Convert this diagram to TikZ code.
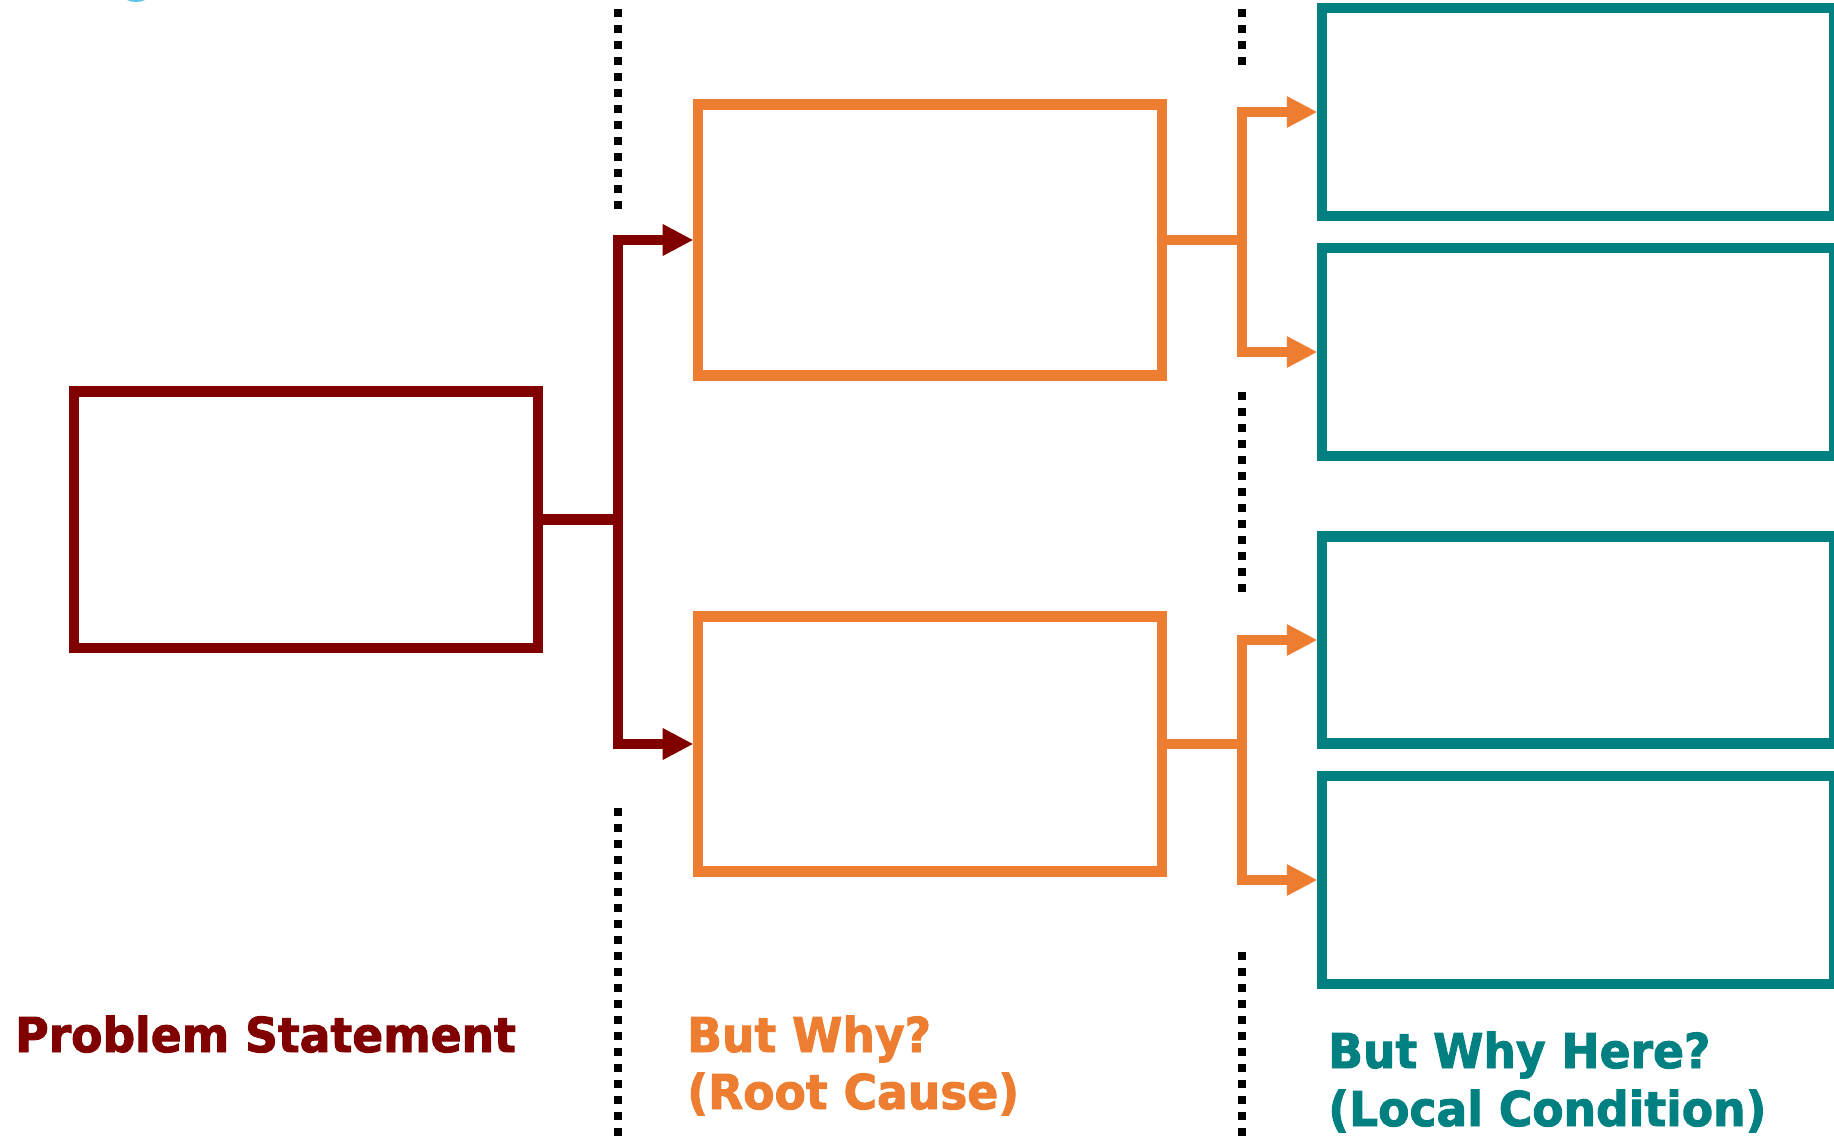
\documentclass[tikz,border=0pt]{standalone}
\usepackage{fontspec}
\setmainfont{DejaVu Sans}
\newfontfamily\headfont{DejaVu Sans Bold}[FakeBold=2, FakeStretch=0.95]
\usetikzlibrary{arrows.meta}
\definecolor{psred}{HTML}{800000}
\definecolor{rcorange}{HTML}{ED7D31}
\definecolor{lcteal}{HTML}{008080}
\definecolor{skyblue}{HTML}{5BC0EB}
\begin{document}
\begin{tikzpicture}[x=0.75pt,y=-0.75pt,
  box/.style={draw, line width=7.9pt, inner sep=0pt, rectangle},
  link/.style={line width=7.9pt},
  tip/.style={-{Triangle[length=22.5pt,width=24pt,line width=0pt]}},
  sepline/.style={line width=6pt, dash pattern=on 6pt off 6pt},
  heading/.style={font=\headfont\fontsize{36}{43}\selectfont, inner sep=0pt, anchor=base west}]
\useasboundingbox (0,0) rectangle (1834,1137);
\clip (0,0) rectangle (1834,1137);

% stray sliver of a shape cut by the top edge
\fill[skyblue] (136,-4) ellipse [x radius=12, y radius=6];

% column separators
\draw[sepline] (618,9) -- (618,209);
\draw[sepline] (618,808) -- (618,1137);
\draw[sepline] (1242,9) -- (1242,65);
\draw[sepline] (1242,392) -- (1242,592);
\draw[sepline] (1242,952) -- (1242,1137);

% boxes
\node[box, draw=psred, minimum width=348pt, minimum height=192.4pt] (ps) at (306,519.75) {};
\node[box, draw=rcorange, minimum width=348pt, minimum height=203.25pt] (rc1) at (930,240) {};
\node[box, draw=rcorange, minimum width=348pt, minimum height=191.25pt] (rc2) at (930,744) {};
\node[box, draw=lcteal, minimum width=384pt, minimum height=156pt] (lc1) at (1578,112) {};
\node[box, draw=lcteal, minimum width=384pt, minimum height=156pt] (lc2) at (1578,352) {};
\node[box, draw=lcteal, minimum width=384pt, minimum height=155.25pt] (lc3) at (1578,640) {};
\node[box, draw=lcteal, minimum width=384pt, minimum height=156pt] (lc4) at (1578,880) {};

% branch points
\coordinate (j0) at (618,519.75);
\coordinate (j1) at (1242,240);
\coordinate (j2) at (1242,744);

% connectors
\draw[link, psred] (ps.east) -- (j0);
\draw[link, psred, tip] (j0) |- (rc1.west);
\draw[link, psred, tip] (j0) |- (rc2.west);

\draw[link, rcorange] (rc1.east) -- (j1);
\draw[link, rcorange, tip] (j1) |- (lc1.west);
\draw[link, rcorange, tip] (j1) |- (lc2.west);

\draw[link, rcorange] (rc2.east) -- (j2);
\draw[link, rcorange, tip] (j2) |- (lc3.west);
\draw[link, rcorange, tip] (j2) |- (lc4.west);

% column headings
\node[heading, text=psred] (psTitle) at (15,1052) {Problem Statement};
\node[heading, text=rcorange] (rcTitle) at (687,1052) {But Why?};
\node[heading, text=rcorange] (rcSub) at (687,1109) {(Root Cause)};
\node[heading, text=lcteal] (lcTitle) at (1328,1068) {But Why Here?};
\node[heading, text=lcteal] (lcSub) at (1328,1126) {(Local Condition)};
\end{tikzpicture}
\end{document}
